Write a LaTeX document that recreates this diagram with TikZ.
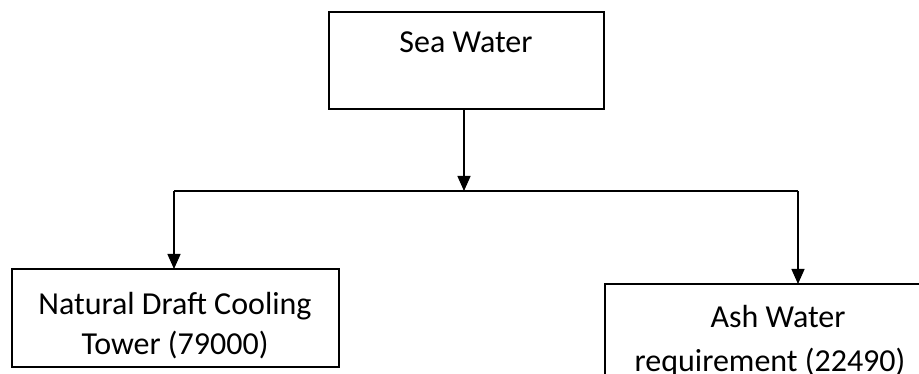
\documentclass[tikz,border=0pt]{standalone}
\usepackage{fontspec}
\setmainfont{Carlito}
\usetikzlibrary{arrows.meta}
\begin{document}
\begin{tikzpicture}[x=1pt,y=-1pt,
  box/.style={draw=black,line width=1.3pt,inner sep=0pt,outer sep=0pt},
  lbl/.style={anchor=base,inner sep=0pt,font=\fontsize{32}{40}\selectfont},
  conn/.style={line width=1.4pt,draw=black},
  arr/.style={conn,-{Triangle[width=13pt,length=15pt]}}]
\useasboundingbox (0,0) rectangle (919,374);
\clip (0,0) rectangle (919,374);
\fill[white] (0,0) rectangle (919,374);
% boxes
\node[box,minimum width=275pt,minimum height=97pt] (sea) at (466.5,60.5) {};
\node[box,minimum width=327pt,minimum height=98pt] (left) at (175.5,318) {};
\node[box,minimum width=356pt,minimum height=100pt] (right) at (783,334) {};
% texts
\node[lbl] (seat) at (466,53) {Sea Water};
\node[lbl] (lt1) at (175,315) {Natural Draft Cooling};
\node[lbl] (lt2) at (175,354) {Tower (79000)};
\node[lbl] (rt1) at (778,327) {Ash Water};
\node[lbl] (rt2) at (770,371) {requirement (22490)};
% connectors
\coordinate (j) at (464,191);
\coordinate (cl) at (174,191);
\coordinate (cr) at (798,191);
\draw[arr] (j |- sea.south) -- (j);
\draw[conn] (cl) -- (cr);
\draw[arr] (cl) -- (cl |- left.north);
\draw[arr] (cr) -- (cr |- right.north);
\end{tikzpicture}
\end{document}
